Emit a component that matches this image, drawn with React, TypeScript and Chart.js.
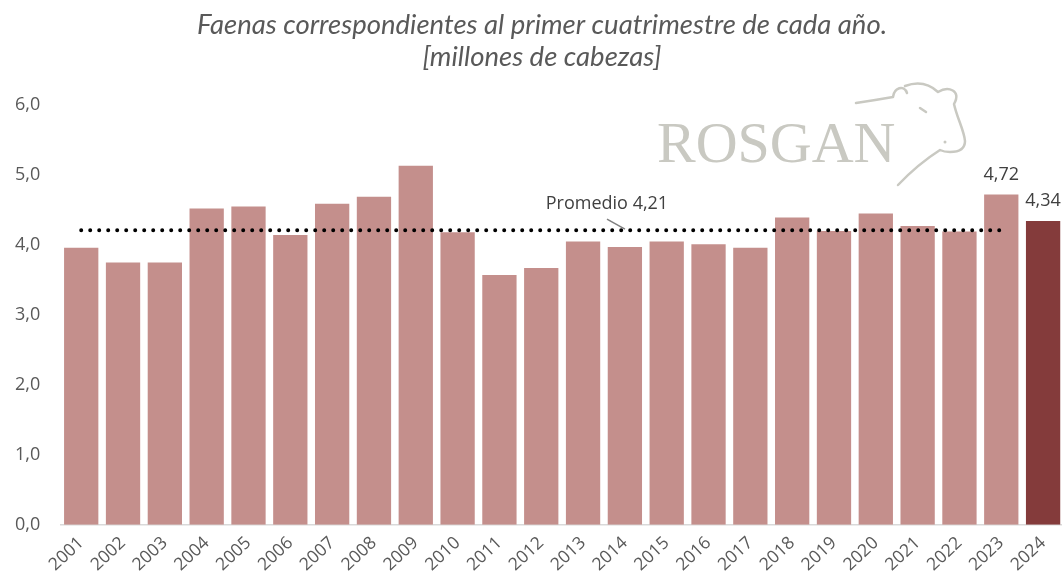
import React, { useEffect, useRef } from "react";
import { Chart, registerables } from "chart.js";

Chart.register(...registerables);

// ---- data ----
const years = [
  "2001", "2002", "2003", "2004", "2005", "2006", "2007", "2008", "2009", "2010", "2011", "2012",
  "2013", "2014", "2015", "2016", "2017", "2018", "2019", "2020", "2021", "2022", "2023", "2024",
];
const faenas = [
  3.96, 3.75, 3.75, 4.52, 4.55, 4.14, 4.59, 4.69, 5.13, 4.18, 3.57, 3.67,
  4.05, 3.97, 4.05, 4.01, 3.96, 4.39, 4.2, 4.45, 4.27, 4.19, 4.72, 4.34,
];
const promedio = 4.21;
const promedioYears = years.slice(0, 23);
const highlightYear = "2024";
const labeledYears = ["2023", "2024"];
const titleLines = ["Faenas correspondientes al primer cuatrimestre de cada año.", "[millones de cabezas]"];
const promedioLabel = "Promedio 4,21";
const logoText = "ROSGAN";
const yMin = 0;
const yMax = 6;
const yStep = 1;

const LIGHT = "#C48F8C";
const DARK = "#843B3B";
const TEXT = "#595959";
const LOGO = "#C9C9C2";

const fmt = (v: number, d: number) => v.toFixed(d).replace(".", ",");

const decorPlugin = {
  id: "decor",
  beforeDraw(chart: any) {
    const ctx = chart.ctx;
    ctx.save();
    // title
    ctx.fillStyle = TEXT;
    ctx.textAlign = "center";
    ctx.textBaseline = "middle";
    ctx.font = "italic 27.5px Lato";
    ctx.fillText(titleLines[0], 542, 25);
    ctx.fillText(titleLines[1], 542, 57);
    // logo text
    ctx.fillStyle = LOGO;
    ctx.textAlign = "left";
    ctx.textBaseline = "alphabetic";
    ctx.font = "58px 'Liberation Serif'";
    ctx.fillText(logoText, 657, 162);
    // cow head outline
    ctx.strokeStyle = LOGO;
    ctx.lineWidth = 2.5;
    ctx.lineCap = "round";
    ctx.lineJoin = "round";
    ctx.beginPath();
    ctx.moveTo(856, 103);
    ctx.quadraticCurveTo(876, 100, 893, 97);
    ctx.bezierCurveTo(894, 88, 904, 84, 907, 93);
    ctx.moveTo(905, 86);
    ctx.quadraticCurveTo(924, 79, 938, 92);
    ctx.bezierCurveTo(948, 86, 962, 90, 954, 104);
    ctx.bezierCurveTo(957, 118, 964, 130, 965, 141);
    ctx.quadraticCurveTo(965, 152, 950, 152);
    ctx.quadraticCurveTo(944, 152, 940, 150);
    ctx.quadraticCurveTo(918, 164, 898, 185);
    ctx.moveTo(920, 108);
    ctx.lineTo(926, 112);
    ctx.stroke();
    ctx.beginPath();
    ctx.arc(945, 142, 1.5, 0, Math.PI * 2);
    ctx.fillStyle = LOGO;
    ctx.fill();
    ctx.restore();
  },
  afterDatasetsDraw(chart: any) {
    const ctx = chart.ctx;
    const xs = chart.scales.x;
    const ys = chart.scales.y;
    const barMeta = chart.getDatasetMeta(1);
    ctx.save();
    ctx.fillStyle = "#404040";
    ctx.font = "18px 'Open Sans'";
    ctx.textAlign = "center";
    ctx.textBaseline = "alphabetic";
    labeledYears.forEach((y) => {
      const i = years.indexOf(y);
      const el = barMeta.data[i];
      ctx.fillText(fmt(faenas[i], 2), el.x, el.y - 15);
    });
    // promedio label + leader
    const ly = ys.getPixelForValue(promedio);
    const lx = (xs.getPixelForValue(12) + xs.getPixelForValue(13)) / 2;
    ctx.fillText(promedioLabel, lx + 3, ly - 21);
    ctx.strokeStyle = "#7F7F7F";
    ctx.lineWidth = 1.5;
    ctx.beginPath();
    ctx.moveTo(lx + 3, ly - 11);
    ctx.lineTo(lx + 21, ly - 1);
    ctx.stroke();
    ctx.restore();
  },
};

export default function App() {
  const ref = useRef<HTMLCanvasElement | null>(null);
  useEffect(() => {
    if (!ref.current) return;
    const chart = new Chart(ref.current, {
      type: "bar",
      data: {
        labels: years,
        datasets: [
          {
            type: "line",
            data: years.map((y) => (promedioYears.includes(y) ? promedio : null)),
            borderColor: "#000000",
            borderWidth: 4,
            borderDash: [0, 9],
            borderCapStyle: "round",
            pointRadius: 0,
            fill: false,
            order: 0,
          } as any,
          {
            type: "bar",
            data: faenas,
            backgroundColor: years.map((y) => (y === highlightYear ? DARK : LIGHT)),
            barPercentage: 0.82,
            categoryPercentage: 1,
            order: 1,
          } as any,
        ],
      },
      options: {
        animation: false,
        responsive: false,
        maintainAspectRatio: false,
        layout: { padding: { top: 105, left: 0, right: 0, bottom: 0 } },
        plugins: {
          legend: { display: false },
          tooltip: { enabled: false },
          title: { display: false },
        },
        scales: {
          x: {
            grid: { display: false, drawTicks: false },
            border: { display: true, color: "#D9D9D9", width: 1.5 },
            ticks: {
              color: TEXT,
              font: { family: "'Open Sans'", size: 17.5 },
              minRotation: 43,
              maxRotation: 43,
              autoSkip: false,
              padding: 8,
            },
            afterFit: (s: any) => {
              s.height = 58.3;
              s.paddingLeft = 0;
              s.paddingRight = 0;
            },
          },
          y: {
            min: yMin,
            max: yMax,
            grid: { display: false, drawTicks: false },
            border: { display: false },
            ticks: {
              stepSize: yStep,
              color: TEXT,
              font: { family: "'Open Sans'", size: 18 },
              padding: 20,
              callback: (v: any) => fmt(Number(v), 1),
            },
            afterFit: (s: any) => {
              s.width = 60.3;
              s.paddingTop = 0;
              s.paddingBottom = 0;
            },
          },
        },
      },
      plugins: [decorPlugin],
    });
    return () => chart.destroy();
  }, []);
  return (
    <div
      style={{
        position: "fixed",
        left: 0,
        top: 0,
        width: 1062,
        height: 583,
        overflow: "hidden",
        background: "#ffffff",
      }}
    >
      <canvas ref={ref} width={1064} height={583} style={{ display: "block" }} />
    </div>
  );
}
